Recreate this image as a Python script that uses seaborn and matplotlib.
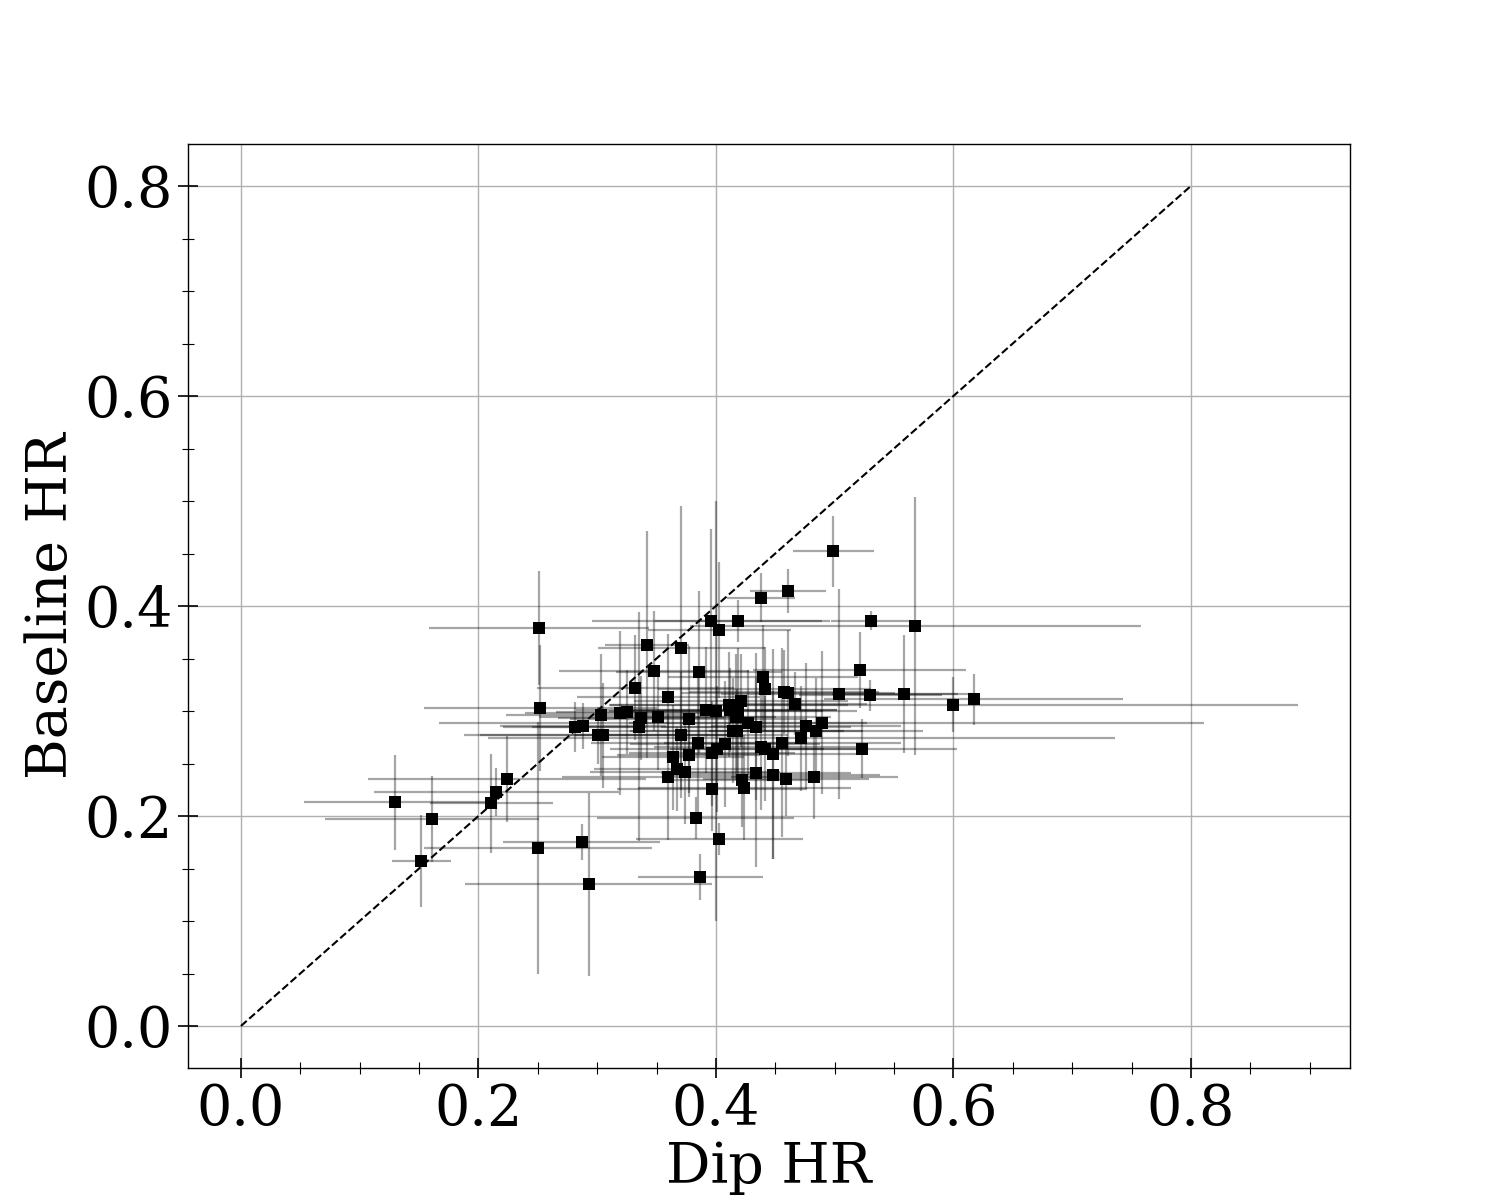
import matplotlib
matplotlib.use('Agg')
import matplotlib.pyplot as plt
from matplotlib.ticker import MultipleLocator
import pandas as pd
import seaborn as sns

# hardness ratios: dip vs baseline, with 1-sigma errors
dip_hr = [0.130, 0.152, 0.161, 0.211, 0.215, 0.224, 0.251, 0.252, 0.250, 0.281,
          0.288, 0.287, 0.293, 0.301, 0.305, 0.303, 0.319, 0.325, 0.332, 0.335,
          0.337, 0.342, 0.348, 0.351, 0.360, 0.360, 0.364, 0.367, 0.371, 0.371,
          0.374, 0.377, 0.377, 0.383, 0.387, 0.386, 0.385, 0.392, 0.396, 0.397,
          0.397, 0.400, 0.403, 0.401, 0.403, 0.408, 0.411, 0.412, 0.414, 0.417,
          0.418, 0.419, 0.419, 0.421, 0.422, 0.424, 0.427, 0.434, 0.434, 0.438,
          0.438, 0.440, 0.441, 0.441, 0.448, 0.448, 0.456, 0.457, 0.459, 0.461,
          0.461, 0.467, 0.472, 0.476, 0.484, 0.483, 0.489, 0.499, 0.504, 0.521,
          0.523, 0.530, 0.531, 0.558, 0.568, 0.600, 0.617]
dip_err = [0.077, 0.025, 0.090, 0.052, 0.103, 0.117, 0.093, 0.098, 0.096, 0.060,
           0.070, 0.066, 0.104, 0.113, 0.104, 0.080, 0.080, 0.060, 0.083, 0.090,
           0.070, 0.035, 0.080, 0.100, 0.077, 0.090, 0.060, 0.070, 0.070, 0.090,
           0.080, 0.100, 0.060, 0.083, 0.053, 0.070, 0.090, 0.110, 0.100, 0.070,
           0.080, 0.090, 0.060, 0.090, 0.070, 0.080, 0.100, 0.090, 0.110, 0.080,
           0.090, 0.070, 0.100, 0.090, 0.060, 0.090, 0.100, 0.080, 0.080, 0.029,
           0.090, 0.080, 0.090, 0.080, 0.070, 0.090, 0.100, 0.080, 0.070, 0.032,
           0.090, 0.060, 0.264, 0.080, 0.090, 0.070, 0.322, 0.034, 0.100, 0.090,
           0.080, 0.060, 0.034, 0.060, 0.190, 0.290, 0.126]
base_hr = [0.213, 0.157, 0.197, 0.212, 0.223, 0.235, 0.379, 0.303, 0.170, 0.285,
           0.286, 0.175, 0.135, 0.277, 0.277, 0.296, 0.298, 0.299, 0.322, 0.285,
           0.293, 0.363, 0.338, 0.294, 0.313, 0.237, 0.256, 0.245, 0.360, 0.277,
           0.242, 0.292, 0.258, 0.198, 0.142, 0.337, 0.270, 0.301, 0.386, 0.260,
           0.226, 0.300, 0.377, 0.264, 0.178, 0.269, 0.306, 0.301, 0.281, 0.294,
           0.281, 0.386, 0.300, 0.310, 0.234, 0.227, 0.289, 0.285, 0.241, 0.408,
           0.266, 0.332, 0.321, 0.264, 0.259, 0.239, 0.270, 0.318, 0.235, 0.414,
           0.317, 0.307, 0.274, 0.286, 0.281, 0.237, 0.289, 0.452, 0.316, 0.339,
           0.264, 0.315, 0.386, 0.316, 0.381, 0.306, 0.311]
base_err = [0.045, 0.044, 0.041, 0.047, 0.023, 0.041, 0.054, 0.060, 0.120, 0.024,
            0.022, 0.017, 0.087, 0.027, 0.050, 0.058, 0.078, 0.040, 0.050, 0.109,
            0.040, 0.108, 0.057, 0.050, 0.060, 0.060, 0.050, 0.040, 0.135, 0.060,
            0.050, 0.070, 0.040, 0.020, 0.022, 0.077, 0.070, 0.060, 0.087, 0.050,
            0.040, 0.200, 0.065, 0.060, 0.015, 0.060, 0.050, 0.040, 0.050, 0.060,
            0.040, 0.020, 0.060, 0.044, 0.044, 0.050, 0.050, 0.070, 0.090, 0.023,
            0.060, 0.050, 0.040, 0.050, 0.100, 0.080, 0.090, 0.040, 0.035, 0.021,
            0.060, 0.030, 0.050, 0.060, 0.050, 0.040, 0.068, 0.034, 0.100, 0.036,
            0.028, 0.015, 0.009, 0.056, 0.123, 0.026, 0.024]

df = pd.DataFrame({'dip': dip_hr, 'dip_err': dip_err,
                   'base': base_hr, 'base_err': base_err})

sns.set_style('ticks', rc={'axes.labelcolor': 'k', 'text.color': 'k'})
plt.rcParams['font.family'] = ['DejaVu Serif']
plt.rcParams['font.size'] = 40

fig, ax = plt.subplots(figsize=(15, 12), dpi=100)

ax.errorbar(df.dip, df.base, xerr=df.dip_err, yerr=df.base_err,
            fmt='none', ecolor='k', alpha=0.35, elinewidth=1.6, zorder=2)
sns.scatterplot(data=df, x='dip', y='base', marker='s', color='k',
                s=64, linewidth=0, ax=ax, zorder=3)
ax.plot([0, 0.8], [0, 0.8], 'k--', linewidth=1.5, zorder=4)

ax.set_xlim(-0.045, 0.934)
ax.set_ylim(-0.04, 0.840)
ax.xaxis.set_major_locator(MultipleLocator(0.2))
ax.yaxis.set_major_locator(MultipleLocator(0.2))
ax.xaxis.set_minor_locator(MultipleLocator(0.05))
ax.yaxis.set_minor_locator(MultipleLocator(0.05))
ax.tick_params(which='major', direction='inout', length=14, width=1.2,
               labelsize=40, colors='k')
ax.tick_params(which='minor', direction='inout', length=8, width=0.8, colors='k')
ax.grid(True, which='major', color='#b0b0b0', linewidth=1.0)
ax.set_axisbelow(True)
for sp in ax.spines.values():
    sp.set_visible(True)
    sp.set_color('k')
    sp.set_linewidth(1.0)

ax.set_xlabel('Dip HR', fontsize=40, labelpad=2, color='k')
ax.set_ylabel('Baseline HR', fontsize=40, labelpad=4, color='k')

fig.subplots_adjust(left=0.125, right=0.9, bottom=0.11, top=0.88)
fig.savefig('out.png', dpi=100)
plt.close(fig)
